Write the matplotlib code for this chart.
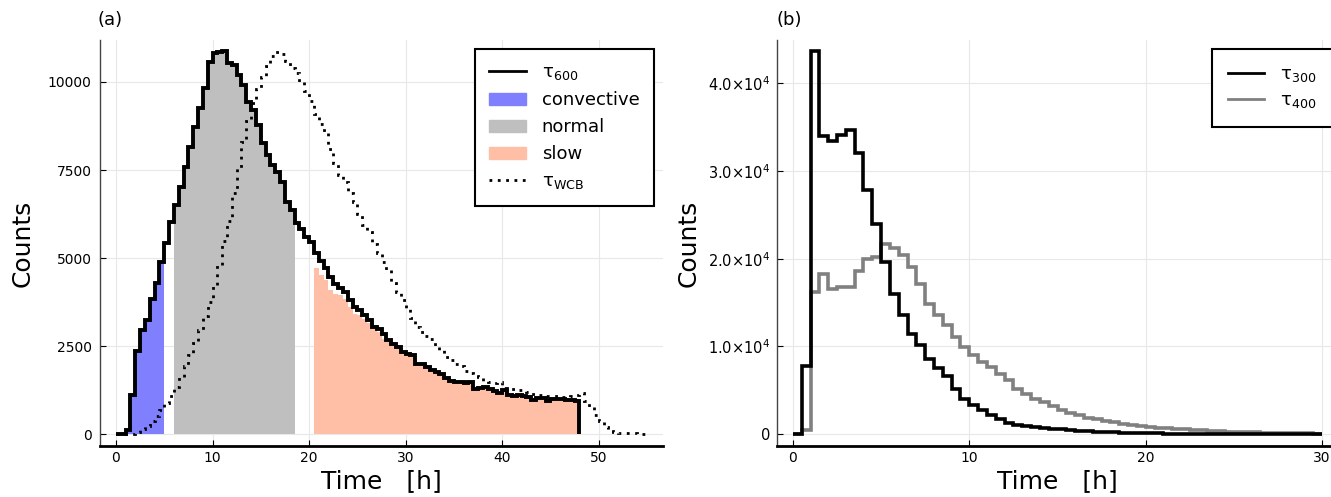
import numpy as np
import matplotlib
matplotlib.use("Agg")
import matplotlib.pyplot as plt
from matplotlib.lines import Line2D
from matplotlib.patches import Patch

# bin width 0.5 h for all histograms
bin_width = 0.5

# (a) tau_600 counts, bins 0..48 h
tau600 = [0, 10, 114, 1108, 2367, 2973, 3258, 3835, 4300, 4897,
          5418, 6032, 6506, 7027, 7576, 8144, 8712, 9253, 9821, 10577,
          10833, 10861, 10890, 10549, 10483, 10199, 9915, 9441, 9205, 8779,
          8258, 7927, 7642, 7453, 7169, 6600, 6364, 5985, 5815, 5606,
          5464, 5133, 4920, 4730, 4470, 4280, 4167, 4044, 3807, 3617,
          3523, 3381, 3239, 3049, 3002, 2860, 2671, 2576, 2481, 2339,
          2273, 2244, 2008, 1989, 1913, 1818, 1771, 1700, 1610, 1510,
          1490, 1500, 1470, 1480, 1300, 1310, 1340, 1300, 1240, 1170,
          1250, 1110, 1090, 1110, 1090, 1060, 980, 1020, 1040, 950,
          990, 1010, 990, 970, 970, 960]

# category ranges (bin index start, stop)
convective_bins = (0, 10)    # 0 - 5 h
normal_bins = (12, 37)       # 6 - 18.5 h
slow_bins = (41, 96)         # 20.5 - 48 h

slow = [4726, 4517, 4375, 4091, 3978, 3950, 3854, 3617, 3428, 3400,
        3286, 3150, 3000, 2900, 2700, 2620, 2530, 2440, 2330, 2240,
        2200, 1980, 1960, 1890, 1800, 1750, 1680, 1590, 1490, 1470,
        1480, 1450, 1460, 1280, 1290, 1320, 1280, 1220, 1150, 1230,
        1090, 1070, 1090, 1070, 1040, 960, 1000, 1020, 930, 970,
        990, 970, 950, 950, 940]

# tau_WCB counts, bins 0..55 h
tau_wcb = [0, 0, 0, 20, 60, 150, 250, 370, 520, 700,
           880, 1100, 1350, 1630, 1950, 2250, 2580, 2950, 3350, 3750,
           4250, 4800, 5500, 6050, 6850, 7550, 8300, 8900, 9400, 9800,
           10150, 10450, 10750, 10860, 10800, 10600, 10400, 10250, 10000, 9750,
           9450, 9100, 8800, 8550, 8100, 7700, 7350, 7150, 6850, 6600,
           6250, 5950, 5750, 5400, 5150, 4900, 4650, 4300, 4050, 3800,
           3550, 3300, 3050, 2900, 2800, 2700, 2500, 2400, 2200, 2100,
           2000, 1950, 1800, 1750, 1650, 1620, 1520, 1480, 1450, 1480,
           1320, 1300, 1290, 1270, 1250, 1200, 1140, 1130, 1110, 1100,
           1090, 1080, 1060, 1060, 1080, 1120, 1160, 960, 780, 560,
           380, 200, 90, 60, 50, 45, 35, 25, 20, 15]

# (b) tau_300 and tau_400 counts, bins 0..30 h
tau300 = [0, 7750, 43700, 34000, 33400, 34100, 34700, 32050, 27800, 23900,
          19570, 15950, 13530, 11400, 10140, 8620, 7520, 6610, 5200, 4070,
          3380, 2810, 2170, 1710, 1330, 1100, 950, 830, 720, 650,
          570, 490, 420, 360, 300, 260, 220, 190, 160, 130,
          110, 95, 80, 70, 60, 50, 45, 40, 35, 30,
          25, 20, 18, 15, 13, 11, 10, 8, 7, 6]
tau400 = [0, 450, 16220, 18310, 16600, 16790, 16720, 18580, 20020, 20210,
          21650, 21160, 20400, 19070, 17170, 14890, 13560, 12420, 11090, 9950,
          9000, 8240, 7670, 6910, 6150, 5200, 4630, 4050, 3680, 3190,
          2810, 2430, 2170, 1900, 1700, 1520, 1350, 1200, 1080, 960,
          860, 770, 690, 620, 560, 500, 450, 400, 360, 320,
          280, 250, 220, 190, 170, 150, 130, 115, 100, 90]

yticks_a = [0, 2500, 5000, 7500, 10000]
yticks_b = [0, 1e4, 2e4, 3e4, 4e4]
yticklabels_b = ["0", "1.0×10$^{4}$", "2.0×10$^{4}$",
                 "3.0×10$^{4}$", "4.0×10$^{4}$"]

c_conv = "#8080ff"
c_norm = "#bfbfbf"
c_slow = "#ffbfa7"

plt.rcParams["font.family"] = ["DejaVu Sans"]

fig = plt.figure(figsize=(13.31, 4.97), dpi=100)
W, H = 1331, 497
ax1 = fig.add_axes([100 / W, (H - 446) / H, 563 / W, 406 / H])
ax2 = fig.add_axes([777 / W, (H - 446) / H, 561 / W, 406 / H])


def edges_for(n, start=0):
    return start * bin_width + bin_width * np.arange(n + 1)


def style(ax):
    ax.grid(True, color="#e8e8e8", lw=0.8, zorder=0)
    ax.set_axisbelow(True)
    for s in ["top", "right"]:
        ax.spines[s].set_visible(False)
    ax.spines["bottom"].set_linewidth(2.0)
    ax.spines["left"].set_linewidth(1.0)
    ax.spines["left"].set_color("#444444")
    ax.tick_params(direction="in", length=4, width=0.8, labelsize=10)
    ax.tick_params(axis="y", pad=6)
    ax.set_xlabel("Time   [h]", fontsize=18)
    ax.set_ylabel("Counts", fontsize=18)


# ---- (a)
t600 = np.array(tau600)
a, b = convective_bins
ax1.stairs(t600[a:b], edges_for(b - a, a), fill=True, color=c_conv, zorder=2)
a, b = normal_bins
ax1.stairs(t600[a:b], edges_for(b - a, a), fill=True, color=c_norm, zorder=2)
a, b = slow_bins
ax1.stairs(slow, edges_for(b - a, a), fill=True, color=c_slow, zorder=2)
ax1.stairs(tau_wcb, edges_for(len(tau_wcb)), color="black", lw=2.0,
           linestyle=(0, (1, 2)), baseline=None, zorder=3)
ax1.stairs(tau600, edges_for(len(tau600)), color="black", lw=2.8,
           baseline=0, zorder=4)

ax1.set_xlim(-1.65, 56.65)
ax1.set_ylim(-330, 11190)
ax1.set_xticks([0, 10, 20, 30, 40, 50])
ax1.set_yticks(yticks_a)
style(ax1)
ax1.yaxis.set_label_coords(-0.116, 0.5)
ax1.xaxis.set_label_coords(0.5, -0.058)
ax1.text(-0.004, 1.05, "(a)", transform=ax1.transAxes, fontsize=13,
         ha="left", va="center")

handles = [Line2D([], [], color="black", lw=2),
           Patch(color=c_conv), Patch(color=c_norm), Patch(color=c_slow),
           Line2D([], [], color="black", lw=2, linestyle=(0, (1, 2)))]
labels = [r"τ$_{600}$", "convective", "normal", "slow", r"τ$_{\mathrm{WCB}}$"]
leg = ax1.legend(handles, labels, loc="upper right", fontsize=13,
                 fancybox=False, framealpha=1, edgecolor="black",
                 bbox_to_anchor=(0.984, 0.978), borderaxespad=0,
                 borderpad=0.8, labelspacing=0.5, handlelength=2.0,
                 handletextpad=0.9)
leg.get_frame().set_linewidth(1.5)

# ---- (b)
ax2.stairs(tau400, edges_for(len(tau400)), color="#808080", lw=2.6,
           baseline=None, zorder=3)
ax2.stairs(tau300, edges_for(len(tau300)), color="black", lw=2.6,
           baseline=None, zorder=4)
ax2.set_xlim(-0.9, 30.9)
ax2.set_ylim(-1330, 44900)
ax2.set_xticks([0, 10, 20, 30])
ax2.set_yticks(yticks_b)
ax2.set_yticklabels(yticklabels_b)
style(ax2)
ax2.tick_params(axis="y", labelsize=10.5, pad=5)
ax2.yaxis.set_label_coords(-0.137, 0.5)
ax2.xaxis.set_label_coords(0.5, -0.058)
ax2.text(0.0, 1.05, "(b)", transform=ax2.transAxes, fontsize=13,
         ha="left", va="center")

handles2 = [Line2D([], [], color="black", lw=2),
            Line2D([], [], color="#808080", lw=2)]
leg2 = ax2.legend(handles2, [r"τ$_{300}$", r"τ$_{400}$"], loc="upper right",
                  fontsize=13, fancybox=False, framealpha=1, edgecolor="black",
                  bbox_to_anchor=(0.991, 0.978), borderaxespad=0,
                  borderpad=0.9, labelspacing=0.4, handlelength=2.0,
                  handletextpad=0.9)
leg2.get_frame().set_linewidth(1.5)

fig.savefig("out.png", dpi=100)
